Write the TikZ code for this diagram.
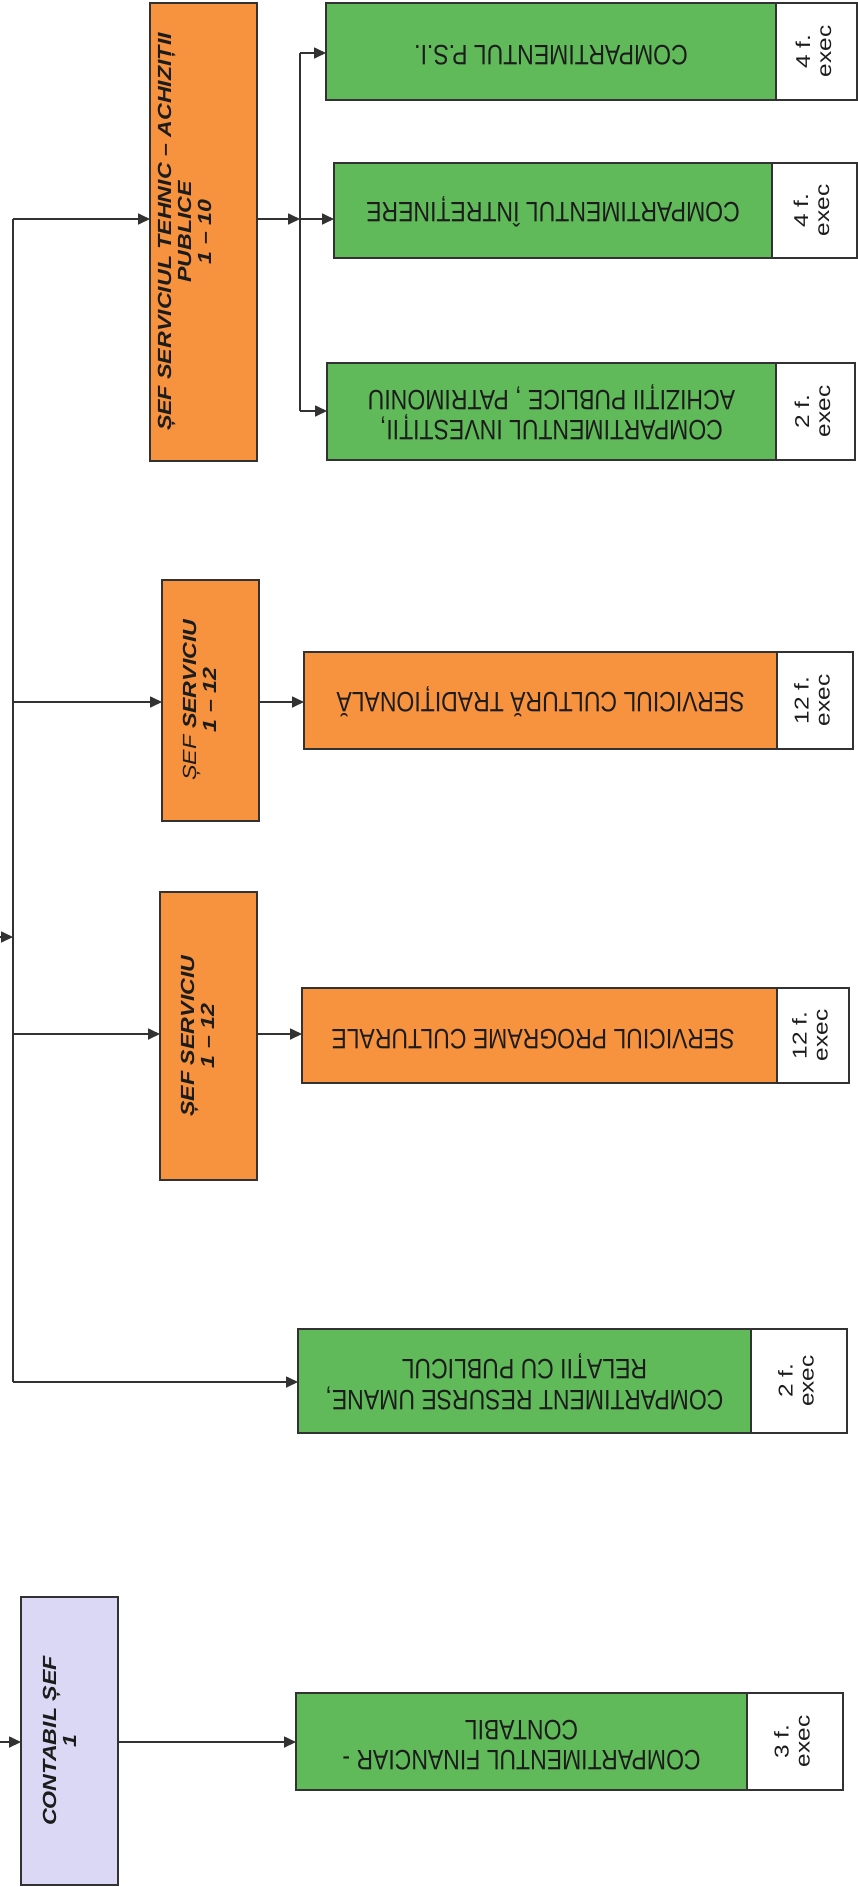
\documentclass[tikz,border=0pt]{standalone}
\usepackage{fontspec}
\setmainfont{Liberation Sans}
\usetikzlibrary{arrows.meta}
\definecolor{orangefill}{RGB}{247,146,62}
\definecolor{greenfill}{RGB}{96,186,90}
\definecolor{lavfill}{RGB}{218,216,244}
\definecolor{edge}{RGB}{50,50,50}
\definecolor{ink}{RGB}{28,28,28}
\newcommand{\rlab}[1]{\scalebox{1.22}[1]{\begin{tabular}{@{}c@{}}#1\end{tabular}}}
\newcommand{\hlab}[1]{\scalebox{1}[1.22]{\begin{tabular}{@{}c@{}}#1\end{tabular}}}
\tikzset{
  x=1pt, y=-1pt,
  boxbase/.style={draw=edge, line width=2.2pt, inner sep=0pt, outer sep=0pt, anchor=center},
  orangebox/.style={boxbase, fill=orangefill},
  greenbox/.style={boxbase, fill=greenfill},
  lavbox/.style={boxbase, fill=lavfill},
  execbox/.style={boxbase, fill=white},
  chieftext/.style={rotate=90, inner sep=0pt, text=ink, font=\fontsize{19}{20}\selectfont\bfseries\itshape},
  unittext/.style={rotate=180, inner sep=0pt, text=ink, font=\fontsize{23}{25}\selectfont},
  exectext/.style={rotate=90, inner sep=0pt, text=ink, font=\fontsize{20}{21}\selectfont},
  conn/.style={draw=edge, line width=1.7pt},
  arr/.style={conn, -{Triangle[length=12pt,width=11pt]}}
}
\begin{document}
\begin{tikzpicture}
\useasboundingbox (0,0) rectangle (858,1887);
% ---------- boxes ----------
\node[orangebox, minimum width=107pt, minimum height=458pt] (tehnic) at (203.5,232) {};
\node[greenbox, minimum width=450pt, minimum height=97pt] (psi) at (551,51.5) {};
\node[execbox, minimum width=81pt, minimum height=97pt] (psiE) at (816.5,51.5) {};
\node[greenbox, minimum width=438pt, minimum height=95pt] (intre) at (553,210.5) {};
\node[execbox, minimum width=85pt, minimum height=95pt] (intreE) at (814.5,210.5) {};
\node[greenbox, minimum width=449pt, minimum height=97pt] (invest) at (551.5,411.5) {};
\node[execbox, minimum width=79pt, minimum height=97pt] (investE) at (815.5,411.5) {};
\node[orangebox, minimum width=97pt, minimum height=241pt] (serv2) at (210.5,700.5) {};
\node[orangebox, minimum width=473pt, minimum height=97pt] (trad) at (540.5,700.5) {};
\node[execbox, minimum width=76pt, minimum height=97pt] (tradE) at (815,700.5) {};
\node[orangebox, minimum width=97pt, minimum height=288pt] (serv1) at (208.5,1036) {};
\node[orangebox, minimum width=475pt, minimum height=95pt] (prog) at (539.5,1035.5) {};
\node[execbox, minimum width=72pt, minimum height=95pt] (progE) at (813,1035.5) {};
\node[greenbox, minimum width=453pt, minimum height=104pt] (resurse) at (524.5,1381) {};
\node[execbox, minimum width=96pt, minimum height=104pt] (resurseE) at (799,1381) {};
\node[lavbox, minimum width=97pt, minimum height=288pt] (contabil) at (69.5,1741) {};
\node[greenbox, minimum width=451pt, minimum height=97pt] (fin) at (521.5,1741.5) {};
\node[execbox, minimum width=96pt, minimum height=97pt] (finE) at (795,1741.5) {};
% ---------- texts ----------
\node[chieftext] (tehnicT) at (187,232) {\rlab{ȘEF SERVICIUL TEHNIC – ACHIZIȚII\\PUBLICE\\1 – 10}};
\node[chieftext] (serv2T) at (202,700) {\rlab{{\mdseries ȘEF} SERVICIU\\1 – 12}};
\node[chieftext] (serv1T) at (200,1036) {\rlab{ȘEF SERVICIU\\1 – 12}};
\node[chieftext] (contabilT) at (62,1741) {\rlab{CONTABIL ȘEF\\1}};
\node[unittext] (psiT) at (psi) {\hlab{COMPARTIMENTUL P.S.I.}};
\node[unittext] (intreT) at (intre) {\hlab{COMPARTIMENTUL ÎNTREȚINERE}};
\node[unittext] (investT) at (invest) {\hlab{COMPARTIMENTUL INVESTIȚII,\\ACHIZIȚII PUBLICE , PATRIMONIU}};
\node[unittext] (tradT) at (trad) {\hlab{SERVICIUL CULTURĂ TRADIȚIONALĂ}};
\node[unittext] (progT) at (533,1035.5) {\hlab{SERVICIUL PROGRAME CULTURALE}};
\node[unittext] (resurseT) at (resurse) {\hlab{COMPARTIMENT RESURSE UMANE,\\RELAȚII CU PUBLICUL}};
\node[unittext] (finT) at (fin) {\hlab{COMPARTIMENTUL FINANCIAR -\\CONTABIL}};
\node[exectext] (psiET) at (psiE) {\rlab{4 f.\\exec}};
\node[exectext] (intreET) at (intreE) {\rlab{4 f.\\exec}};
\node[exectext] (investET) at (investE) {\rlab{2 f.\\exec}};
\node[exectext] (tradET) at (tradE) {\rlab{12 f.\\exec}};
\node[exectext] (progET) at (progE) {\rlab{12 f.\\exec}};
\node[exectext] (resurseET) at (resurseE) {\rlab{2 f.\\exec}};
\node[exectext] (finET) at (finE) {\rlab{3 f.\\exec}};
% ---------- connectors ----------
\coordinate (ttop) at (13,219);
\coordinate (tbot) at (13,1382);
\coordinate (in1) at (0,937);
\coordinate (in2) at (0,1742);
\coordinate (j2) at (13,702);
\coordinate (j1) at (13,1034);
\coordinate (bus) at (300,219);
\coordinate (busTop) at (300,53);
\coordinate (busBot) at (300,411);
\draw[conn] (ttop) -- (tbot);
\draw[arr] (in1) -- (in1 -| ttop);
\draw[arr] (ttop) -- (ttop -| tehnic.west);
\draw[arr] (j2) -- (j2 -| serv2.west);
\draw[arr] (j1) -- (j1 -| serv1.west);
\draw[arr] (tbot) -- (tbot -| resurse.west);
\draw[arr] (bus -| tehnic.east) -- (bus);
\draw[conn, line width=1.3pt] (busTop) -- (busBot);
\draw[arr] (busTop) -- (busTop -| psi.west);
\draw[arr] (bus) -- (bus -| intre.west);
\draw[arr] (busBot) -- (busBot -| invest.west);
\draw[arr] (j2 -| serv2.east) -- (j2 -| trad.west);
\draw[arr] (j1 -| serv1.east) -- (j1 -| prog.west);
\draw[arr] (in2) -- (in2 -| contabil.west);
\draw[arr] (in2 -| contabil.east) -- (in2 -| fin.west);
\end{tikzpicture}
\end{document}
